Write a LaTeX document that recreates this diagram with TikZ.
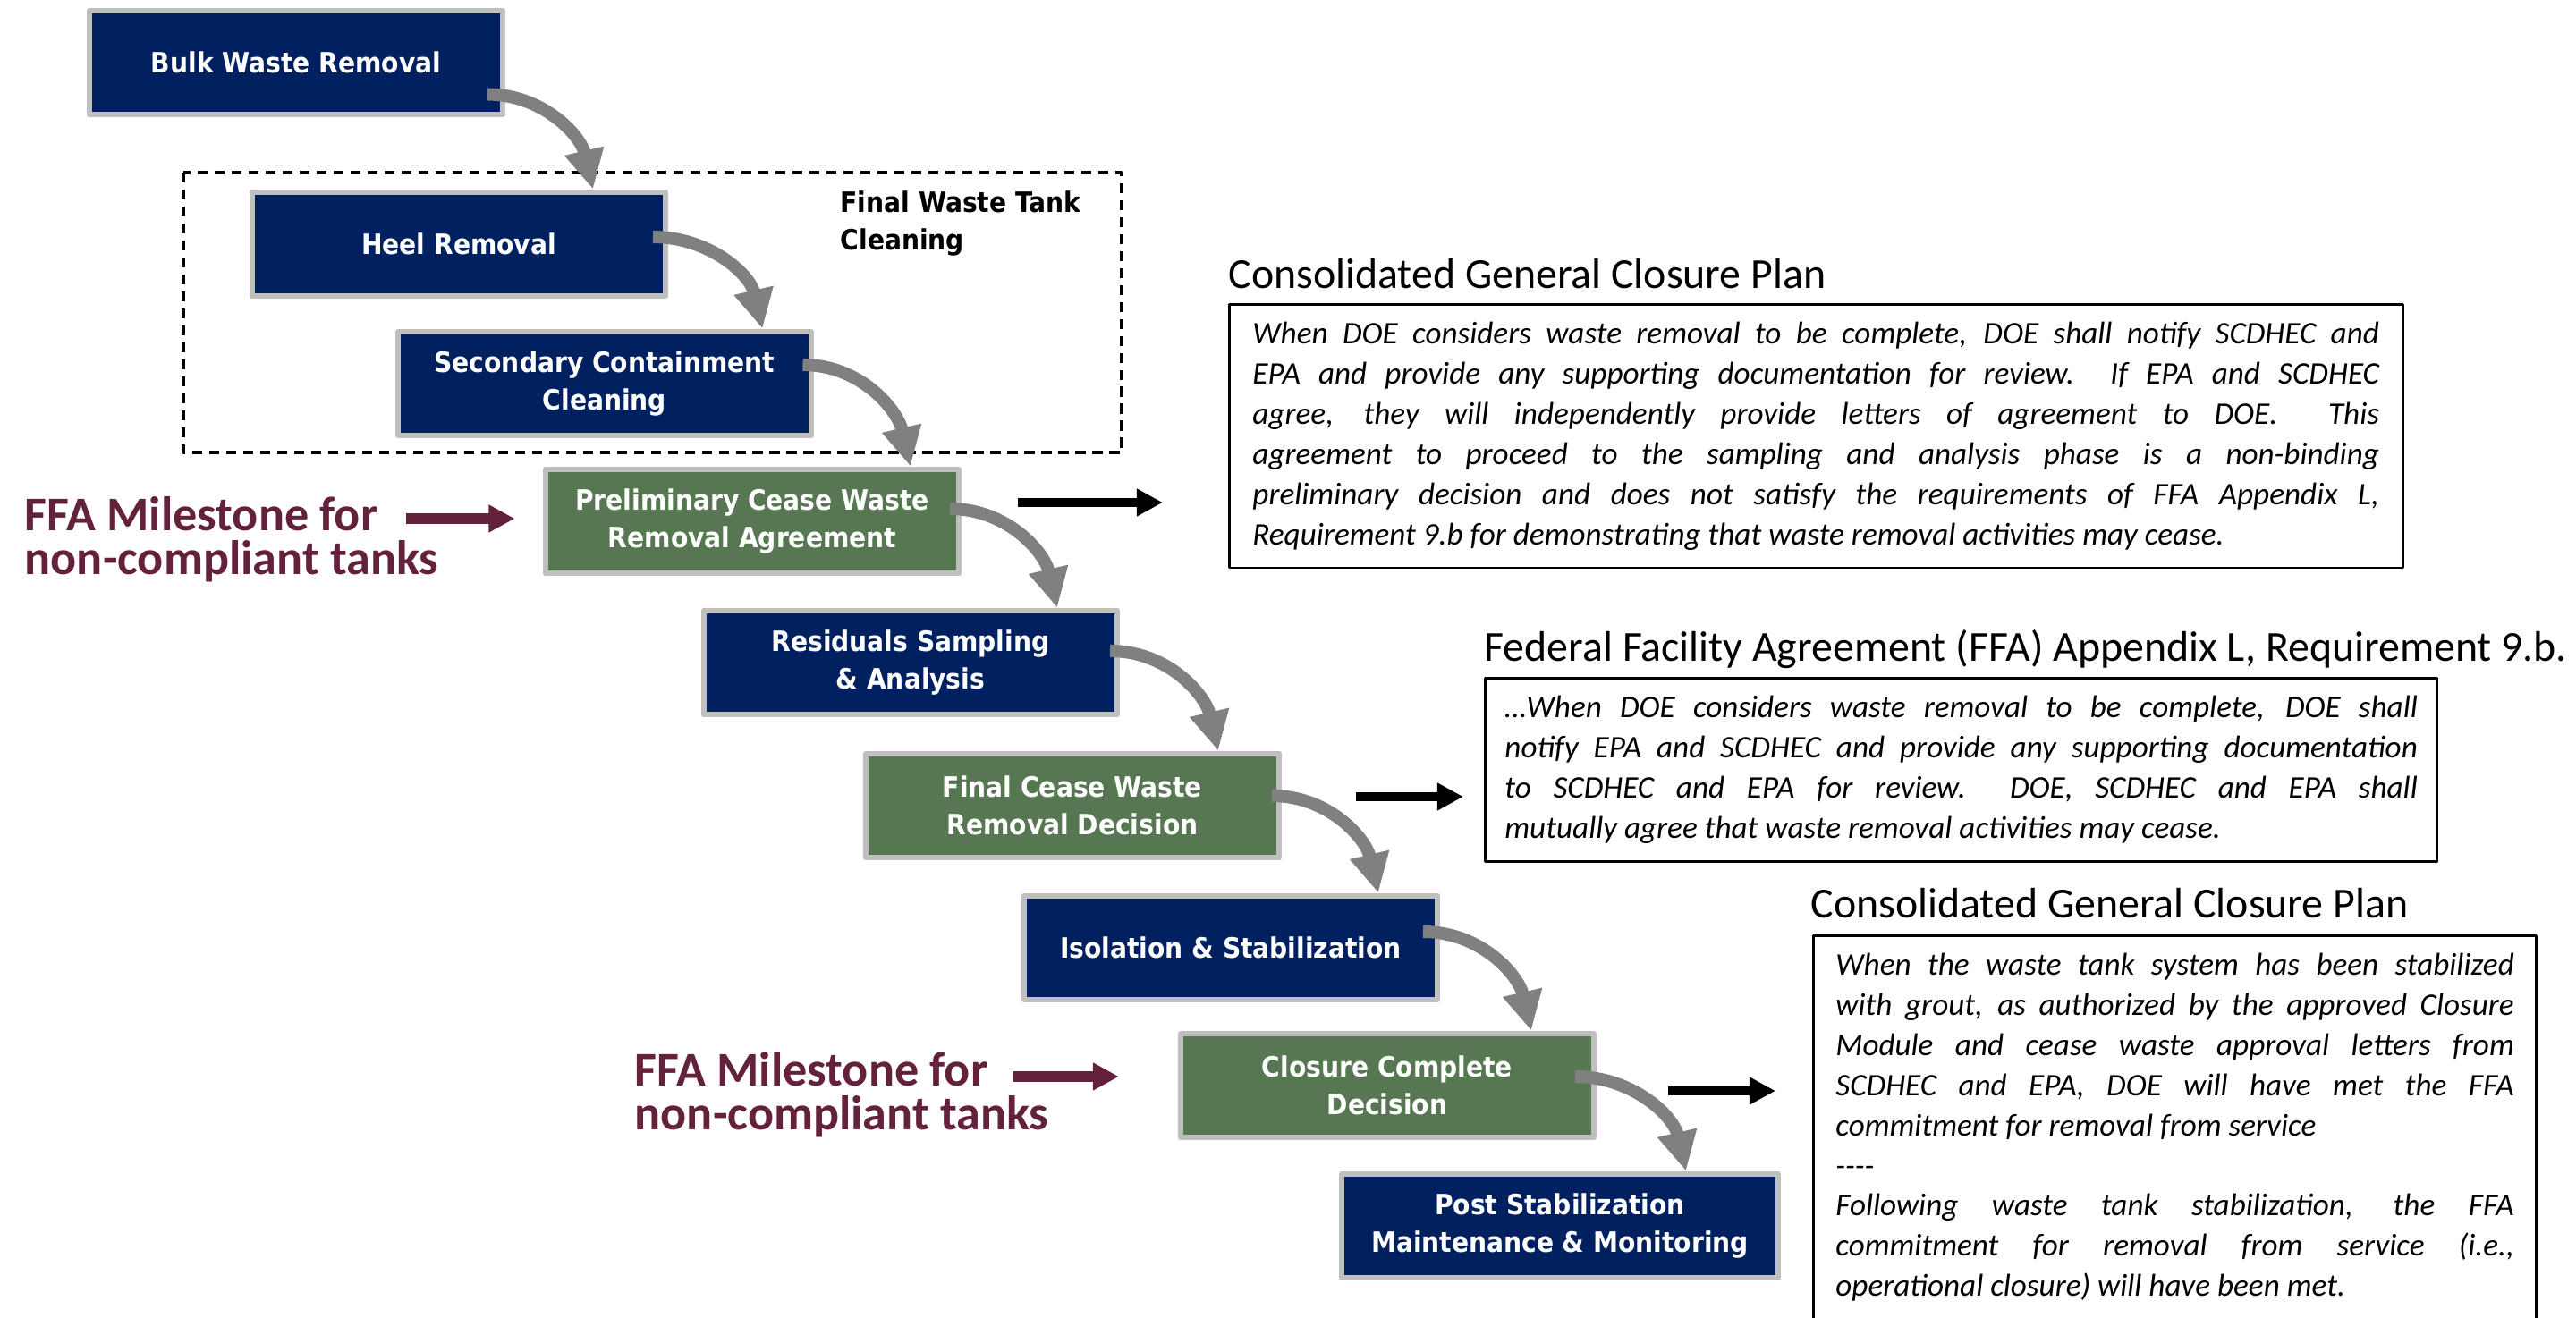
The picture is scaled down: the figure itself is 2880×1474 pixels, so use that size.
\documentclass[tikz,border=0pt]{standalone}
\usepackage{fontspec}
\setmainfont{Carlito}
\newfontfamily\stagefont{DejaVu Sans Condensed}
\usepackage{tikz}
\usetikzlibrary{arrows.meta}
\definecolor{navyfill}{RGB}{0,32,96}
\definecolor{olivefill}{RGB}{87,119,83}
\definecolor{rimgray}{RGB}{191,191,191}
\definecolor{flowgray}{RGB}{128,128,128}
\definecolor{ffared}{RGB}{100,33,60}
\tikzstyle{every node}=[inner sep=0pt]
\tikzstyle{stage}=[draw=rimgray,line width=1.9pt,fill=navyfill,text=white,minimum width=4.62cm,minimum height=1.16cm,align=center,font=\stagefont\bfseries\fontsize{8.9}{11.95}\selectfont]
\tikzstyle{decision}=[stage,fill=olivefill]
\tikzstyle{note}=[draw,line width=0.8pt,anchor=north west,inner xsep=0.25cm,inner ysep=0.2cm,align=justify,font=\itshape\fontsize{10}{12.75}\selectfont]
\tikzstyle{notehead}=[anchor=base west,font=\fontsize{13.6}{16}\selectfont]
\tikzstyle{milestone}=[anchor=west,align=left,text=ffared,font=\bfseries\fontsize{15.4}{14}\selectfont]
\tikzstyle{flow}=[-{Triangle[width=12pt,length=12.5pt]},line width=4pt,line cap=butt,draw=flowgray]
\tikzstyle{notearr}=[-{Triangle[width=8.3pt,length=8.3pt]},line width=2.9pt,line cap=butt]
\tikzstyle{msarr}=[notearr,line width=3.2pt,draw=ffared]

\begin{document}
\begin{tikzpicture}[line cap=round,line join=round,x=0.01cm,y=0.01cm]
            \useasboundingbox (0,0) rectangle (2880,-1474);
            % cleaning group
            \draw [line width=1pt,line cap=butt,dash pattern=on 3.2pt off 2.2pt] (205,-193) rectangle (1254,-506);
            \node [anchor=north west,align=left,font=\stagefont\bfseries\fontsize{8.9}{11.95}\selectfont] (clean) at (939,-213) {Final Waste Tank\\Cleaning};
            % process steps
            \node [stage] (b1) at (331,-70) {Bulk Waste Removal};
            \node [stage] (b2) at (513,-273) {Heel Removal};
            \node [stage] (b3) at (676,-429) {Secondary Containment\\Cleaning};
            \node [decision] (b4) at (841,-583) {Preliminary Cease Waste\\Removal Agreement};
            \node [stage] (b5) at (1018,-741) {Residuals Sampling\\\& Analysis};
            \node [decision] (b6) at (1199,-901) {Final Cease Waste\\Removal Decision};
            \node [stage] (b7) at (1376,-1060) {Isolation \& Stabilization};
            \node [decision] (b8) at (1551,-1214) {Closure Complete\\Decision};
            \node [stage,minimum width=4.88cm] (b9) at (1744,-1371) {Post Stabilization\\Maintenance \& Monitoring};
            % step to step
            \draw [flow] ([xshift=-0.205cm,yshift=-0.355cm]b1.east) to[out=0,in=103] ([xshift=-0.845cm]b2.north east);
            \draw [flow] ([xshift=-0.175cm,yshift=0.08cm]b2.east) to[out=0,in=103] ([xshift=-0.58cm]b3.north east);
            \draw [flow] ([xshift=-0.13cm,yshift=0.21cm]b3.east) to[out=0,in=103] ([xshift=-0.575cm]b4.north east);
            \draw [flow] ([xshift=-0.135cm,yshift=0.14cm]b4.east) to[out=0,in=103] ([xshift=-0.705cm]b5.north east);
            \draw [flow] ([xshift=-0.115cm,yshift=0.13cm]b5.east) to[out=0,in=103] ([xshift=-0.715cm]b6.north east);
            \draw [flow] ([xshift=-0.115cm,yshift=0.11cm]b6.east) to[out=0,in=103] ([xshift=-0.695cm]b7.north east);
            \draw [flow] ([xshift=-0.195cm,yshift=0.18cm]b7.east) to[out=0,in=103] ([xshift=-0.735cm]b8.north east);
            \draw [flow] ([xshift=-0.245cm,yshift=0.10cm]b8.east) to[out=0,in=103] ([xshift=-1.065cm]b9.north east);
            % milestones
            \node [milestone] (m1) at (27,-603) {FFA Milestone for\\non-compliant tanks};
            \node [milestone] (m2) at (709,-1224) {FFA Milestone for\\non-compliant tanks};
            \coordinate (m1a) at (454,-580);
            \coordinate (m2a) at (1132,-1204);
            \draw [msarr,shorten >=0.31cm] (m1a) -- (m1a -| b4.west);
            \draw [msarr,shorten >=0.655cm] (m2a) -- (m2a -| b8.west);
            % quoted requirements
            \node [notehead] (h1) at (1373,-323) {Consolidated General Closure Plan};
            \node [note,text width=12.59cm,inner xsep=0.26cm] (n1) at (1373,-339) {When DOE considers waste removal to be complete, DOE shall notify SCDHEC and \linebreak EPA and provide any supporting documentation for review.\ \ If EPA and SCDHEC \linebreak agree, they will independently provide letters of agreement to DOE.\ \ This \linebreak agreement to proceed to the sampling and analysis phase is a non-binding \linebreak preliminary decision and does not satisfy the requirements of FFA Appendix L, \linebreak Requirement 9.b for demonstrating that waste removal activities may cease.};
            \node [notehead] (h2) at (1659,-740) {Federal Facility Agreement (FFA) Appendix L, Requirement 9.b.};
            \node [note,text width=10.2cm,inner xsep=0.22cm] (n2) at (1659,-757) {…When DOE considers waste removal to be complete, DOE shall \linebreak notify EPA and SCDHEC and provide any supporting documentation \linebreak to SCDHEC and EPA for review.\ \ DOE, SCDHEC and EPA shall \linebreak mutually agree that waste removal activities may cease.};
            \node [notehead] (h3) at (2024,-1027) {Consolidated General Closure Plan};
            \node [note,text width=7.58cm] (n3) at (2026,-1045) {When the waste tank system has been stabilized \linebreak with grout, as authorized by the approved Closure \linebreak Module and cease waste approval letters from \linebreak SCDHEC and EPA, DOE will have met the FFA \linebreak commitment for removal from service\\ -{}-{}-{}-\\ Following waste tank stabilization, the FFA \linebreak commitment for removal from service (i.e., \linebreak operational closure) will have been met.};
            % pointers to the quotes
            \coordinate (q1) at ([yshift=0.21cm]b4.east);
            \coordinate (q2) at ([yshift=0.10cm]b6.east);
            \coordinate (q3) at ([yshift=-0.06cm]b8.east);
            \draw [notearr,shorten <=0.625cm,shorten >=0.73cm] (q1) -- (q1 -| n1.west);
            \draw [notearr,shorten <=0.825cm,shorten >=0.23cm] (q2) -- (q2 -| n2.west);
            \draw [notearr,shorten <=0.795cm,shorten >=0.41cm] (q3) -- (q3 -| n3.west);
            \end{tikzpicture}
\end{document}
